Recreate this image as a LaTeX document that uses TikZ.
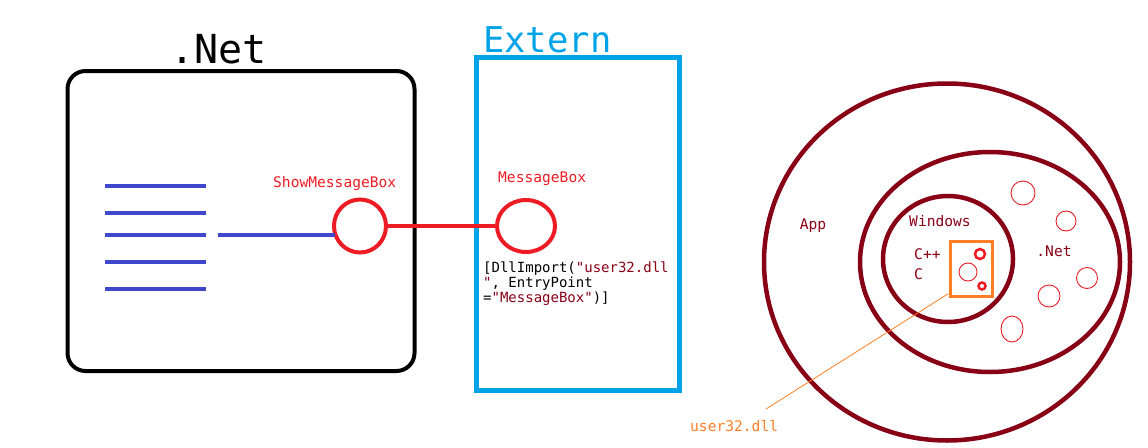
\documentclass[tikz,border=0pt]{standalone}
\usepackage{fontspec}
\setmonofont{DejaVu Sans Mono}
\usetikzlibrary{shapes.geometric, positioning}

\definecolor{codeblue}{HTML}{3F48CC}
\definecolor{callred}{HTML}{ED1C24}
\definecolor{externblue}{HTML}{00A2E8}
\definecolor{layerred}{HTML}{880015}
\definecolor{dllorange}{HTML}{FF7F27}

\begin{document}
\begin{tikzpicture}[x=1pt,y=-1pt,
  lbl/.style={font=\ttfamily\fontsize{14.6}{16}\selectfont, inner sep=0pt},
  title/.style={font=\ttfamily\fontsize{40}{44}\selectfont, inner sep=0pt},
  func/.style={ellipse, draw=callred, line width=4pt, inner sep=0pt},
  layer/.style={ellipse, draw=layerred, line width=4.5pt, inner sep=0pt},
  module/.style={ellipse, draw=callred, line width=0.9pt, inner sep=0pt},
  codeline/.style={draw=codeblue, line width=4pt}]
\useasboundingbox (0,0) rectangle (1148,447);

% define the .Net side
  \node[draw, line width=4pt, rounded corners=18pt, minimum width=347pt,
        minimum height=300pt] (net) at (241,221) {};
  \node[title, anchor=base west] (nettitle) at (170,63) {.Net};
  \foreach \y in {186,213,235,262,289}
    \draw[codeline] (105,\y) -- (206,\y);
  \node[func, minimum width=52pt, minimum height=53pt] (show) at (360,226) {};
  \node[lbl, text=callred, anchor=base west] (showlbl) at (273,187) {ShowMessageBox};
  \coordinate (callstart) at (218,235);
  \draw[codeline] (callstart) -- ([xshift=3pt]show.west |- callstart);

% define the extern side
  \node[draw=externblue, line width=5pt, minimum width=203pt,
        minimum height=333pt] (ext) at (577.5,223.5) {};
  \node[title, font=\ttfamily\fontsize{35.5}{40}\selectfont, text=externblue,
        anchor=base west] (exttitle) at (483,52) {Extern};
  \node[func, minimum width=58pt, minimum height=52pt] (mbox) at (526,226) {};
  \node[lbl, text=callred, anchor=base west] (mboxlbl) at (498,182) {MessageBox};
  \node[lbl, font=\ttfamily\fontsize{14}{14.6}\selectfont, align=left,
        anchor=north west] (import) at (483,262)
    {[DllImport(\textcolor{layerred}{"user32.dll}\\
     \textcolor{layerred}{"}, EntryPoint\\
     =\textcolor{layerred}{"MessageBox"})]};

% define the link
  \draw[callred, line width=4pt] (show.east) -- (mbox.west);

% define the layers
  \node[layer, minimum width=366pt, minimum height=357pt] (app) at (947,262) {};
  \node[layer, minimum width=260pt, minimum height=220pt] (dotnet) at (990,262) {};
  \node[layer, minimum width=130pt, minimum height=126pt] (windows) at (948,259) {};
  \node[lbl, text=layerred] (applbl) at (813,226) {App};
  \node[lbl, text=layerred] (winlbl) at (940,221) {Windows};
  \node[lbl, text=layerred, anchor=west] (cpplbl) at (914,254) {C++};
  \node[lbl, text=layerred, anchor=west] (clbl) at (914,274) {C};
  \node[lbl, text=layerred] (dotnetlbl) at (1054,251) {.Net};

% define the modules
  \node[module, minimum size=24pt] (m1) at (1023,193) {};
  \node[module, minimum size=20pt] (m2) at (1066,221) {};
  \node[module, minimum size=21pt] (m3) at (1087,278) {};
  \node[module, minimum size=22pt] (m4) at (1049,296) {};
  \node[module, minimum width=22pt, minimum height=26pt] (m5) at (1012,329) {};

% define the dll
  \node[draw=dllorange, line width=3pt, minimum width=42pt,
        minimum height=55pt] (dll) at (971,268.5) {};
  \node[module, line width=2.5pt, minimum size=10pt] (d1) at (980,254) {};
  \node[module, minimum size=18pt] (d2) at (968,272) {};
  \node[module, line width=2.5pt, minimum size=7pt] (d3) at (982,286) {};
  \coordinate (dllend) at (766,409);
  \draw[dllorange, line width=0.8pt] ([yshift=4pt]dll.south west) -- (dllend);
  \node[lbl, text=dllorange, anchor=base west] (dlllbl) at (690,431) {user32.dll};

\end{tikzpicture}
\end{document}
